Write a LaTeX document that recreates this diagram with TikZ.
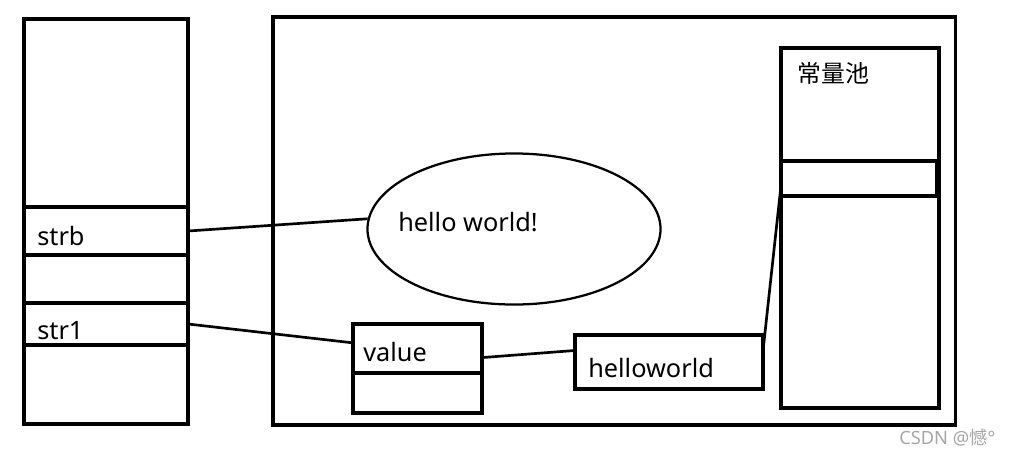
\documentclass[tikz,border=0pt]{standalone}
\usepackage{fontspec}
\setmainfont{Noto Sans}
\newfontfamily\cjk{Noto Sans CJK SC}
\usetikzlibrary{positioning, shapes.geometric}

\begin{document}
\begin{tikzpicture}[
    x=0.025cm, y=-0.025cm,
    box/.style={rectangle, draw, line width=2.3pt, inner sep=0pt, outer sep=0pt, anchor=north west},
    txt/.style={anchor=base west, inner sep=0pt, font=\fontsize{18}{20}\selectfont},
    link/.style={line width=1.9pt}
]
\useasboundingbox (0,0) rectangle (1013,456);

% Stack
\node (stack) [box, minimum width=4.1cm, minimum height=10.125cm] at (24,19) {};
\node (strb) [box, line width=3pt, minimum width=4.1cm, minimum height=1.2cm] at (24,207) {};
\node (str1) [box, minimum width=4.1cm, minimum height=1.05cm] at (24,303) {};
\node (strbtxt) [txt] at (37,245) {strb};
\node (str1txt) [txt] at (37,339) {str1};

% Heap
\node (heap) [box, minimum width=17.05cm, minimum height=10.2cm] at (273,17) {};
\node (hello) [ellipse, draw, line width=1.6pt, minimum width=7.325cm, minimum height=3.775cm] at (514,229) {};
\node (hellotxt) [txt] at (398,231) {hello world!};
\node (valtop) [box, minimum width=3.225cm, minimum height=1.225cm] at (353,324) {};
\node (valbot) [box, minimum width=3.225cm, minimum height=1cm] at (353,373) {};
\node (valtxt) [txt] at (363,361) {value};
\node (hw) [box, minimum width=4.7cm, minimum height=1.35cm] at (575,335) {};
\node (hwtxt) [txt] at (588,377) {helloworld};

% Constant pool
\node (pool) [box, minimum width=3.95cm, minimum height=9cm] at (781,48) {};
\node (poolcell) [box, minimum width=3.9cm, minimum height=0.875cm] at (781,161) {};
\node (pooltxt) [txt, font=\cjk\fontsize{17}{20}\selectfont] at (797,82) {常量池};

% Links
\draw [link] (strb.east) -- (hello.176);
\draw [link] (str1.east) -- (valtop.175);
\draw [link] (valtop.-8) -- (hw.173);
\draw [link] (hw.7) -- (poolcell.185);

% Watermark
\node (mark) [anchor=base west, inner sep=0pt, text=gray!70, font=\fontsize{13}{15}\selectfont] at (899,444) {CSDN @{\cjk 憾}°};

\end{tikzpicture}
\end{document}
